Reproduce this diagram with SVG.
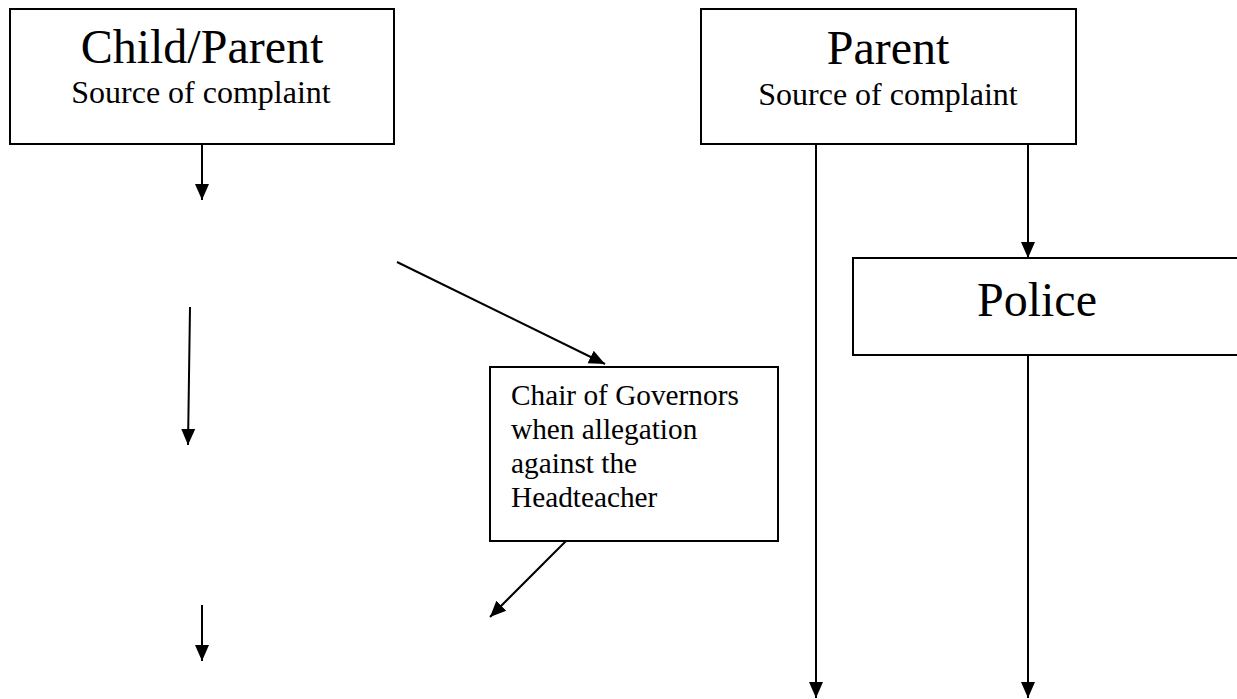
<svg xmlns="http://www.w3.org/2000/svg" width="1237" height="699" viewBox="0 0 1237 699">
<style>
.box{fill:#fff;stroke:#000;stroke-width:2}
.t{font-family:"Liberation Serif","Times New Roman",serif;fill:#000}
.big{font-size:48px}
.sub{font-size:32px}
.small{font-size:29.3px}
.c{stroke:#000;stroke-width:2;fill:none}
</style>
<defs>
<marker id="ah" markerUnits="userSpaceOnUse" markerWidth="16" markerHeight="16" viewBox="0 0 16 16" refX="16" refY="8" orient="auto">
<path d="M0,1 L16,8 L0,15 Z" fill="#000"/>
</marker>
</defs>
<rect width="1237" height="699" fill="#fff"/>
<g id="node-child-parent">
<rect class="box" x="10" y="9" width="384" height="135"/>
<text class="t big" x="202" y="63" text-anchor="middle">Child/Parent</text>
<text class="t sub" x="201" y="103" text-anchor="middle">Source of complaint</text>
</g>
<g id="node-parent">
<rect class="box" x="701" y="9" width="375" height="135"/>
<text class="t big" x="888" y="64" text-anchor="middle">Parent</text>
<text class="t sub" x="888" y="105" text-anchor="middle">Source of complaint</text>
</g>
<g id="node-police">
<rect class="box" x="853" y="258" width="400" height="97"/>
<text class="t big" x="1037" y="316" text-anchor="middle">Police</text>
</g>
<g id="node-chair">
<rect class="box" x="490" y="367" width="288" height="174"/>
<text class="t small" x="511" y="405">Chair of Governors</text>
<text class="t small" x="511" y="439">when allegation</text>
<text class="t small" x="511" y="473">against the</text>
<text class="t small" x="511" y="507">Headteacher</text>
</g>
<g id="connectors">
<line class="c" x1="202" y1="144" x2="202" y2="200" marker-end="url(#ah)"/>
<line class="c" x1="190" y1="307" x2="188" y2="445" marker-end="url(#ah)"/>
<line class="c" x1="202" y1="605" x2="202" y2="661" marker-end="url(#ah)"/>
<line class="c" x1="397" y1="262" x2="605" y2="364" marker-end="url(#ah)"/>
<line class="c" x1="566" y1="541" x2="490" y2="617" marker-end="url(#ah)"/>
<line class="c" x1="816" y1="144" x2="816" y2="698" marker-end="url(#ah)"/>
<line class="c" x1="1028" y1="144" x2="1028" y2="258" marker-end="url(#ah)"/>
<line class="c" x1="1028" y1="355" x2="1028" y2="698" marker-end="url(#ah)"/>
</g>
</svg>
